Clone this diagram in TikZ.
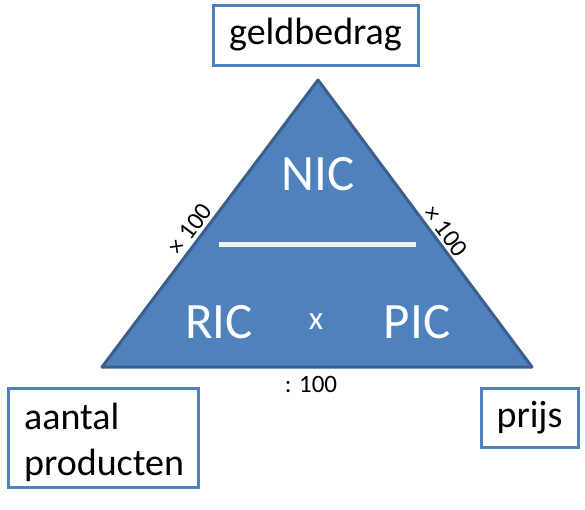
\documentclass[tikz,border=0pt]{standalone}
\usepackage{fontspec}
\setmainfont{Carlito}
\definecolor{triFill}{HTML}{4F81BD}
\definecolor{triEdge}{HTML}{3B5E8C}
\definecolor{boxEdge}{HTML}{4F81BD}
\begin{document}
\begin{tikzpicture}[x=1pt,y=-1pt,
  labelbox/.style={draw=boxEdge,line width=3pt,fill=white,inner sep=0pt},
  bigwhite/.style={text=white,font=\fontsize{51}{54}\selectfont,inner sep=0pt},
  small/.style={font=\fontsize{25}{28}\selectfont,inner sep=0pt}]
\useasboundingbox (0,0) rectangle (585,509);
% triangle
\coordinate (A) at (318,80);
\coordinate (L) at (102,367);
\coordinate (R) at (532,367);
\draw[fill=triFill,draw=triEdge,line width=3pt,line join=round] (A) -- (L) -- (R) -- cycle;
% divider line
\coordinate (d1) at (219,244);
\coordinate (d2) at (416,244);
\draw[draw=white!94!black,line width=5pt] (d1) -- (d2);
% white labels
\node[bigwhite] (nic) at (318,174) {NIC};
\node[bigwhite] (ric) at (219,322) {RIC};
\node[text=white,font=\fontsize{33}{36}\selectfont,inner sep=0pt] (x) at (316,322) {x};
\node[bigwhite] (pic) at (417,322) {PIC};
% edge labels
\node[small,rotate=53] (lx) at (190,229) {× 100};
\node[small,rotate=-53] (rx) at (446,231) {× 100};
\node[small] (bx) at (311,384) {: 100};
% boxes
\node[labelbox,minimum width=205pt,minimum height=60pt,font=\fontsize{38}{40}\selectfont] (geld) at (315.5,35) {geldbedrag};
\node[labelbox,minimum width=190pt,minimum height=99pt] (aantal) at (103,437.5) {};
\node[font=\fontsize{38}{46}\selectfont,align=left,anchor=west,inner sep=0pt] (aantaltxt) at (24,442) {aantal\\producten};
\node[labelbox,minimum width=97pt,minimum height=59pt,font=\fontsize{38}{40}\selectfont] (prijs) at (529.5,417.5) {prijs};
\end{tikzpicture}
\end{document}
